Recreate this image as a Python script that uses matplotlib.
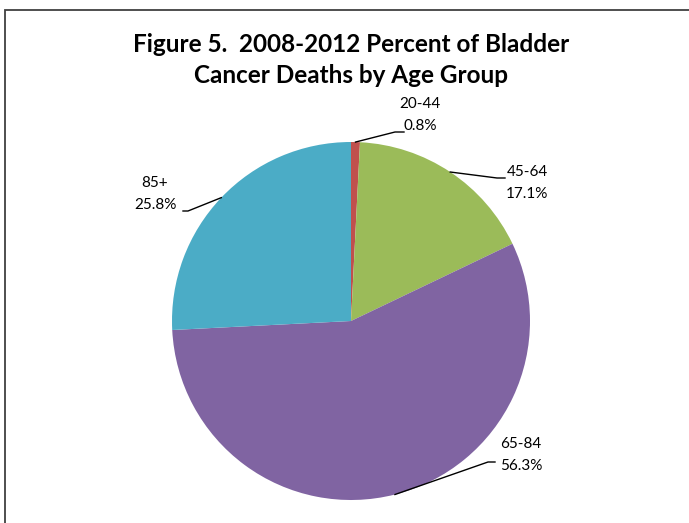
import numpy as np
import matplotlib
matplotlib.use("Agg")
import matplotlib.pyplot as plt
from matplotlib.patches import Rectangle

# data
groups = ["20-44", "45-64", "65-84", "85+"]
percents = [0.8, 17.1, 56.3, 25.8]
colors = ["#C0504D", "#9BBB59", "#8064A2", "#4BACC6"]

# label centres and leader-line elbows (pixel layout, y from top)
label_pos = [(420, 115), (527, 183), (521, 455), (155, 194)]
elbows = [[(395, 132), (404, 132)],
          [(497, 178), (505, 178)],
          [(488, 462), (495, 462)],
          [(188, 211), (183, 211)]]

W, H = 689, 523
plt.rcParams["font.family"] = ["Lato", "DejaVu Sans"]

fig = plt.figure(figsize=(W / 100, H / 100), dpi=100)
ax = fig.add_axes([0, 0, 1, 1])

cx, cy, r = 351, H - 321, 179
wedges, _ = ax.pie(percents, colors=colors, startangle=90, counterclock=False,
                   center=(cx, cy), radius=r, frame=True,
                   wedgeprops=dict(linewidth=0))
ax.set_xlim(0, W)
ax.set_ylim(0, H)
ax.set_aspect("equal")
ax.axis("off")

for w, g, p, (lx, ly), el in zip(wedges, groups, percents, label_pos, elbows):
    mid = np.deg2rad((w.theta1 + w.theta2) / 2)
    px, py = cx + r * np.cos(mid), cy + r * np.sin(mid)
    xs = [px] + [e[0] for e in el]
    ys = [py] + [H - e[1] for e in el]
    ax.plot(xs, ys, color="black", lw=1)
    ax.text(lx, H - ly, f"{g}\n{p:.1f}%", ha="center", va="center",
            fontsize=11, linespacing=1.65, color="black")

fig.text(351 / W, 1 - 60 / H, "Figure 5.  2008-2012 Percent of Bladder\nCancer Deaths by Age Group",
         ha="center", va="center", fontsize=17.5, fontweight="bold", linespacing=1.45)

fig.patches.append(Rectangle((5 / W, -0.1), 1.2, 1 - 10 / H + 0.1, transform=fig.transFigure,
                             fill=False, edgecolor="#404040", lw=1.3, clip_on=False))

fig.savefig("out.png", dpi=100)
